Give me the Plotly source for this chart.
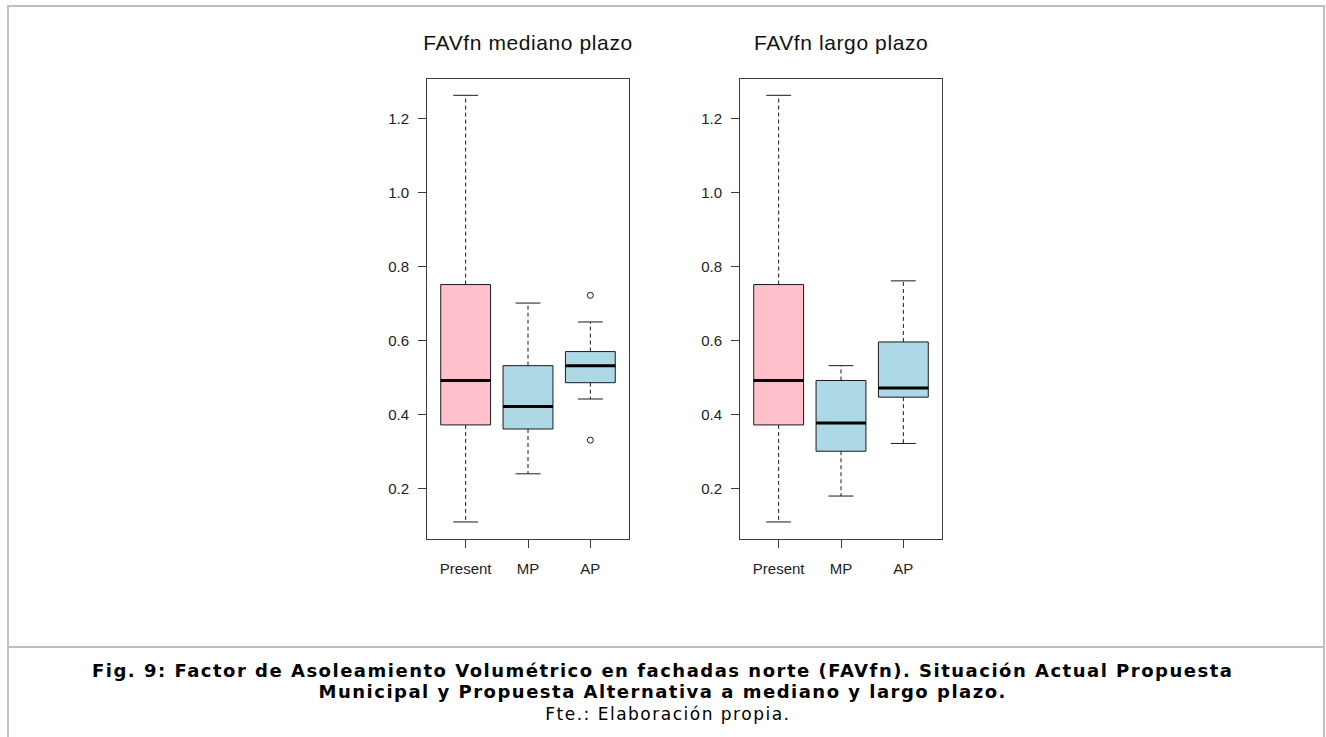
import plotly.graph_objects as go

W, H = 1326, 737

# ---------------- data ----------------
categories = ["Present", "MP", "AP"]
panel_titles = ["FAVfn mediano plazo", "FAVfn largo plazo"]
box_colors = ["#FFC0CB", "#ADD8E6", "#ADD8E6"]

# FAVfn mediano plazo
mp_whisk_low = [0.11, 0.24, 0.442]
mp_q1 = [0.372, 0.361, 0.486]
mp_median = [0.492, 0.422, 0.532]
mp_q3 = [0.751, 0.532, 0.570]
mp_whisk_high = [1.262, 0.701, 0.650]
mp_outliers = [[], [], [0.722, 0.331]]

# FAVfn largo plazo
lp_whisk_low = [0.11, 0.180, 0.322]
lp_q1 = [0.372, 0.301, 0.447]
lp_median = [0.492, 0.377, 0.472]
lp_q3 = [0.751, 0.492, 0.596]
lp_whisk_high = [1.262, 0.532, 0.761]
lp_outliers = [[], [], []]

y_ticks = [0.2, 0.4, 0.6, 0.8, 1.0, 1.2]
y_ticktext = ["0.2", "0.4", "0.6", "0.8", "1.0", "1.2"]

caption_1 = "Fig. 9: Factor de Asoleamiento Volumétrico en fachadas norte (FAVfn). Situación Actual Propuesta"
caption_2 = "Municipal y Propuesta Alternativa a mediano y largo plazo."
caption_3 = "Fte.: Elaboración propia."

panels = [
    (mp_whisk_low, mp_q1, mp_median, mp_q3, mp_whisk_high, mp_outliers),
    (lp_whisk_low, lp_q1, lp_median, lp_q3, lp_whisk_high, lp_outliers),
]

# ---------------- layout helpers ----------------
def px_x(p):
    return p / W

def px_y(p):
    return 1 - p / H

plot_left = [427, 740]
plot_w = 202
plot_top, plot_bot = 79, 539

BOX_HALF = 0.4
CAP_HALF = 0.2
INK = "#1a1a1a"
FRAME = "#3c3c3c"
ARIAL = "Liberation Sans, Arial, sans-serif"

fig = go.Figure()

for pi, (wl, q1, med, q3, wh, outl) in enumerate(panels):
    xa = "x" if pi == 0 else "x2"
    ya = "y" if pi == 0 else "y2"
    for i, cat in enumerate(categories):
        c = i + 1
        # box
        fig.add_trace(go.Scatter(
            x=[c - BOX_HALF, c + BOX_HALF, c + BOX_HALF, c - BOX_HALF, c - BOX_HALF],
            y=[q1[i], q1[i], q3[i], q3[i], q1[i]],
            mode="lines", fill="toself", fillcolor=box_colors[i],
            line=dict(color=INK, width=1), xaxis=xa, yaxis=ya,
            hoverinfo="skip", showlegend=False))
        # whiskers (dashed)
        fig.add_trace(go.Scatter(
            x=[c, c, None, c, c],
            y=[q3[i], wh[i], None, q1[i], wl[i]],
            mode="lines", line=dict(color=INK, width=1, dash="4px,3px"),
            xaxis=xa, yaxis=ya, hoverinfo="skip", showlegend=False))
        # caps
        fig.add_trace(go.Scatter(
            x=[c - CAP_HALF, c + CAP_HALF, None, c - CAP_HALF, c + CAP_HALF],
            y=[wh[i], wh[i], None, wl[i], wl[i]],
            mode="lines", line=dict(color=INK, width=1),
            xaxis=xa, yaxis=ya, hoverinfo="skip", showlegend=False))
        # median
        fig.add_trace(go.Scatter(
            x=[c - BOX_HALF, c + BOX_HALF], y=[med[i], med[i]],
            mode="lines", line=dict(color="#000000", width=3),
            xaxis=xa, yaxis=ya, hoverinfo="skip", showlegend=False))
        # outliers
        if outl[i]:
            fig.add_trace(go.Scatter(
                x=[c] * len(outl[i]), y=outl[i], mode="markers",
                marker=dict(symbol="circle-open", size=6, color=INK, line=dict(width=1)),
                xaxis=xa, yaxis=ya, hoverinfo="skip", showlegend=False))

axis_common = dict(showgrid=False, zeroline=False, showline=True, mirror=True,
                   linecolor=FRAME, linewidth=1, ticks="outside", ticklen=8,
                   tickcolor=FRAME, tickwidth=1,
                   tickfont=dict(family=ARIAL, size=15, color="#222222"))

for pi in range(2):
    xk = "xaxis" if pi == 0 else "xaxis2"
    yk = "yaxis" if pi == 0 else "yaxis2"
    fig.update_layout({
        xk: dict(axis_common, domain=[px_x(plot_left[pi]), px_x(plot_left[pi] + plot_w)],
                 range=[0.38, 3.62], tickmode="array", tickvals=[1, 2, 3],
                 ticktext=categories, anchor="y" if pi == 0 else "y2",
                 ticklabelstandoff=8),
        yk: dict(axis_common, domain=[px_y(plot_bot), px_y(plot_top)],
                 range=[0.064, 1.306], tickmode="array", tickvals=y_ticks,
                 ticktext=y_ticktext, anchor="x" if pi == 0 else "x2",
                 ticklabelstandoff=6),
    })

annotations = []
for pi, t in enumerate(panel_titles):
    annotations.append(dict(
        text=t, x=px_x(plot_left[pi] + plot_w / 2), y=px_y(42.5), xref="paper", yref="paper",
        xanchor="center", yanchor="middle", showarrow=False,
        font=dict(family=ARIAL, size=21, color="#111111")))

CAP_FONT = "DejaVu Sans, Verdana, sans-serif"
annotations.append(dict(text="<b>" + caption_1 + "</b>", x=px_x(662), y=px_y(670),
                        xref="paper", yref="paper", xanchor="center", yanchor="middle",
                        showarrow=False, font=dict(family=CAP_FONT, size=18, color="#000000")))
annotations.append(dict(text="<b>" + caption_2 + "</b>", x=px_x(662), y=px_y(691),
                        xref="paper", yref="paper", xanchor="center", yanchor="middle",
                        showarrow=False, font=dict(family=CAP_FONT, size=18, color="#000000")))
annotations.append(dict(text=caption_3, x=px_x(668), y=px_y(713.5),
                        xref="paper", yref="paper", xanchor="center", yanchor="middle",
                        showarrow=False, font=dict(family=CAP_FONT, size=17, color="#000000")))

BORDER = "#c0c0c0"
shapes = [
    dict(type="line", xref="paper", yref="paper", x0=px_x(7), x1=px_x(1325), y0=px_y(6), y1=px_y(6),
         line=dict(color=BORDER, width=2)),
    dict(type="line", xref="paper", yref="paper", x0=px_x(8), x1=px_x(8), y0=px_y(5), y1=px_y(737),
         line=dict(color=BORDER, width=2)),
    dict(type="line", xref="paper", yref="paper", x0=px_x(1324), x1=px_x(1324), y0=px_y(5), y1=px_y(737),
         line=dict(color=BORDER, width=2)),
    dict(type="line", xref="paper", yref="paper", x0=px_x(8), x1=px_x(1324), y0=px_y(647), y1=px_y(647),
         line=dict(color=BORDER, width=2)),
]

fig.update_layout(width=W, height=H, margin=dict(l=0, r=0, t=0, b=0),
                  paper_bgcolor="white", plot_bgcolor="white",
                  annotations=annotations, shapes=shapes, showlegend=False)

post_js = (
    "document.body.style.margin='0px';"
    "document.body.style.overflow='hidden';"
    "var st=document.createElement('style');"
    "st.innerHTML='"
    ".annotation[data-index=\"0\"] .annotation-text,.annotation[data-index=\"1\"] .annotation-text{letter-spacing:0.6px}"
    ".annotation[data-index=\"2\"] .annotation-text,.annotation[data-index=\"3\"] .annotation-text{letter-spacing:1.5px}"
    ".annotation[data-index=\"4\"] .annotation-text{letter-spacing:1.5px}';"
    "document.head.appendChild(st);"
)

fig.write_html("out.html", config={"displayModeBar": False}, post_script=post_js)
